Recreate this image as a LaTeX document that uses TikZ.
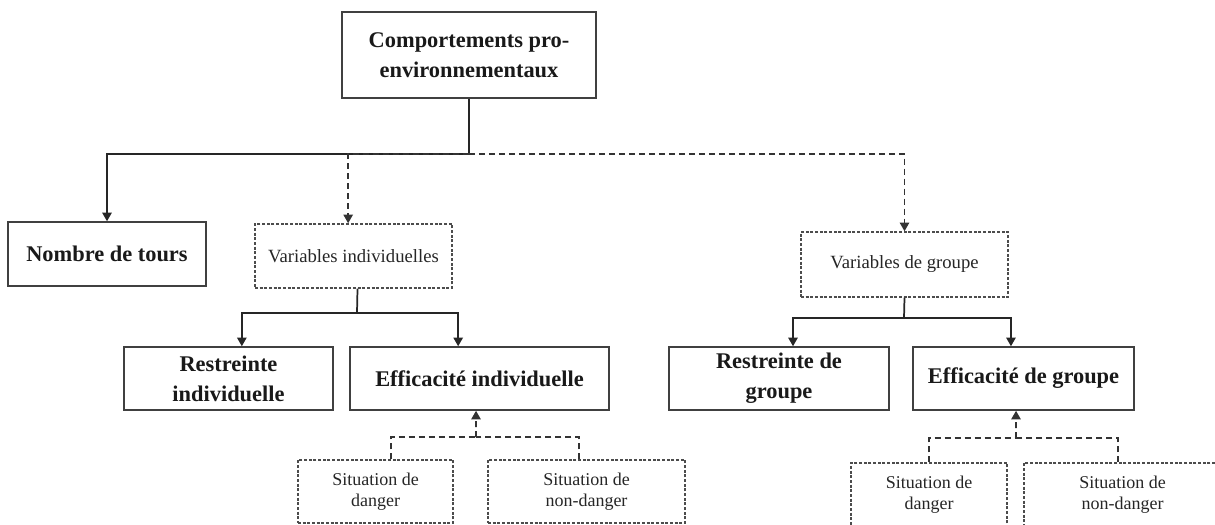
\documentclass[tikz,border=0pt]{standalone}
\usepackage{fontspec}
\setmainfont{Liberation Serif}
\usetikzlibrary{arrows.meta}
\tikzset{
  box/.style={draw=black!75, line width=1.1pt, rectangle, inner sep=0pt, align=center, text=black!90,
    font=\fontsize{16.8}{22.5}\selectfont\bfseries},
  dbox/.style={draw=black!70, line width=1.1pt, dash pattern=on 2.2pt off 1.3pt, rectangle, inner sep=0pt, align=center, text=black!85,
    font=\fontsize{13.5}{16}\selectfont},
  conn/.style={draw=black!85, line width=1.3pt},
  dconn/.style={draw=black!80, line width=1.3pt, dash pattern=on 4.5pt off 3pt},
  arr/.style={-{Triangle[length=6.5pt,width=7pt]}},
}
\begin{document}
\begin{tikzpicture}[x=0.75pt,y=-0.75pt]
\clip (0,0) rectangle (1215,525);
\fill[white] (0,0) rectangle (1215,525);
% nodes
\node[box, minimum width=190.5pt, minimum height=64.5pt] (top) at (469,55) {Comportements pro-\\environnementaux};
\node[box, minimum width=148.5pt, minimum height=48pt] (nombre) at (107,254) {Nombre de tours};
\node[dbox, minimum width=147.75pt, minimum height=48pt, font=\fontsize{14}{16}\selectfont] (varind) at (353.5,256) {Variables individuelles};
\node[box, minimum width=156.75pt, minimum height=47.25pt] (resind) at (228.5,378.5) {Restreinte\\individuelle};
\node[box, minimum width=194.25pt, minimum height=47.25pt] (effind) at (479.5,378.5) {Efficacité individuelle};
\node[dbox, minimum width=116.25pt, minimum height=47.25pt] (sd1) at (375.5,491.5) {Situation de\\danger};
\node[dbox, minimum width=147.75pt, minimum height=47.25pt] (snd1) at (586.5,491.5) {Situation de\\non-danger};
\node[dbox, minimum width=155.25pt, minimum height=48.75pt, font=\fontsize{14}{16}\selectfont] (vargr) at (904.5,264.5) {Variables de groupe};
\node[box, minimum width=165pt, minimum height=47.25pt] (resgr) at (779,378.5) {Restreinte de\\groupe};
\node[box, minimum width=165.75pt, minimum height=47.25pt] (effgr) at (1023.5,378.5) {Efficacité de groupe};
\node[dbox, minimum width=117pt, minimum height=47.25pt] (sd2) at (929,494.5) {Situation de\\danger};
\node[dbox, minimum width=147.75pt, minimum height=47.25pt] (snd2) at (1122.5,494.5) {Situation de\\non-danger};
% junctions
\coordinate (j1) at (469,154);
\coordinate (j2) at (357,313);
\coordinate (j3) at (904,318);
\coordinate (j4) at (476,437);
\coordinate (j5) at (1016,438);
% top connectors
\draw[conn] (top.south) -- (j1);
\draw[conn, arr] (j1) -| (nombre.north);
\draw[dconn, arr] (j1) -| ([xshift=-4pt]varind.north);
\draw[dconn, arr] (j1) -| (vargr.north);
% individual
\draw[conn] ([xshift=3pt]varind.south) -- (j2);
\draw[conn, arr] (j2) -| ([xshift=10pt]resind.north);
\draw[conn, arr] (j2) -| ([xshift=-16pt]effind.north);
% group
\draw[conn] (vargr.south) -- (j3);
\draw[conn, arr] (j3) -| ([xshift=10.5pt]resgr.north);
\draw[conn, arr] (j3) -| ([xshift=-9.4pt]effgr.north);
% situations individual
\draw[dconn] ([xshift=11.6pt]sd1.north) |- (j4);
\draw[dconn] ([xshift=-5.6pt]snd1.north) |- (j4);
\draw[dconn, arr] (j4) -- ([xshift=-2.6pt]effind.south);
% situations group
\draw[dconn] (sd2.north) |- (j5);
\draw[dconn] ([xshift=-3.4pt]snd2.north) |- (j5);
\draw[dconn, arr] (j5) -- ([xshift=-5.6pt]effgr.south);
\end{tikzpicture}
\end{document}
